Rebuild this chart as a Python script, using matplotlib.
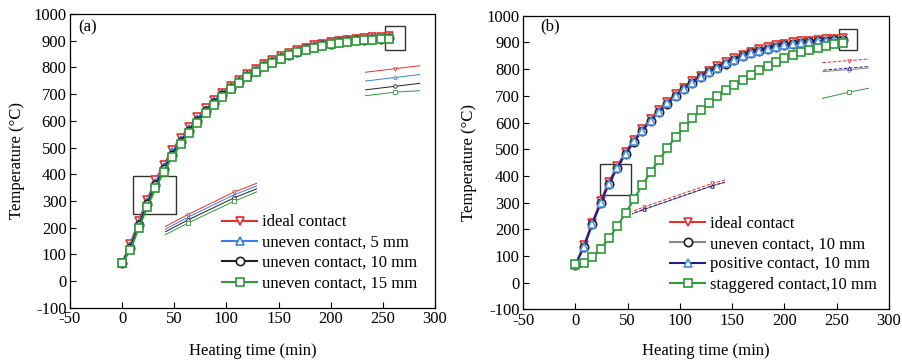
import matplotlib
matplotlib.use("Agg")
import matplotlib.pyplot as plt
from matplotlib.patches import Rectangle

plt.rcParams['font.family'] = ['Liberation Serif', 'DejaVu Serif']
plt.rcParams['font.size'] = 12
plt.rcParams['axes.unicode_minus'] = False

# heating time (min), one sample every 8 min
time_min = list(range(0, 257, 8))

# panel (a)
ideal = [68, 140, 225, 305, 378, 436, 490, 535, 576, 613, 647, 678, 706,
         731, 754, 775, 794, 811, 827, 841, 854, 865, 874, 882, 889, 895,
         900, 904, 907, 910, 912, 914, 916]
uneven_5 = [68, 133, 217, 296, 369, 428, 482, 528, 569, 607, 641, 673, 701,
            727, 750, 771, 790, 808, 824, 838, 851, 862, 871, 879, 886, 892,
            897, 901, 904, 907, 909, 911, 913]
uneven_10 = [68, 126, 209, 287, 359, 419, 474, 520, 562, 600, 635, 667, 696,
             722, 746, 767, 787, 805, 821, 835, 848, 859, 868, 876, 883, 889,
             894, 898, 901, 904, 906, 908, 910]
uneven_15 = [68, 118, 200, 277, 348, 410, 465, 512, 555, 593, 628, 661, 691,
             718, 742, 764, 784, 802, 818, 832, 845, 856, 866, 874, 881, 887,
             892, 896, 899, 902, 904, 906, 907]

# panel (b)
uneven_10b = [68, 133, 218, 297, 370, 429, 483, 528, 569, 606, 640, 671, 699,
              725, 748, 769, 788, 805, 821, 835, 848, 859, 868, 876, 883, 889,
              894, 898, 901, 904, 906, 908, 910]
positive_10 = [68, 134, 219, 298, 371, 430, 484, 529, 570, 607, 641, 672, 700,
               726, 749, 770, 789, 806, 822, 836, 849, 860, 869, 877, 884, 890,
               895, 899, 902, 905, 907, 909, 911]
staggered_10 = [69, 75, 97, 127, 166, 212, 260, 313, 366, 414, 460, 504, 547,
                583, 616, 648, 674, 698, 721, 741, 760, 779, 797, 813, 828,
                842, 853, 863, 872, 880, 887, 893, 898]

RED = '#e3302f'
BLUE = '#3c7ee0'
LIGHT_BLUE = '#4a90e2'
NAVY = '#1e1e8c'
BLACK = '#202020'
GRAY = '#8a8a8a'
GREEN = '#2f9a3a'


def style_axes(ax, tag, tag_xy, ylab_x, xlab_y):
    """Common frame, ticks and labels of one panel."""
    ax.set_xlim(-50, 300)
    ax.set_ylim(-100, 1000)
    ax.set_xticks(range(-50, 301, 50))
    ax.set_yticks(range(-100, 1001, 100))
    ax.tick_params(direction='in', length=4, width=0.8, pad=2.5,
                   top=False, right=False)
    for sp in ax.spines.values():
        sp.set_linewidth(0.9)
    ax.set_xlabel('Heating time (min)')
    ax.set_ylabel('Temperature (°C)')
    ax.xaxis.set_label_coords(0.5, xlab_y)
    ax.yaxis.set_label_coords(ylab_x, 0.5)
    ax.text(tag_xy[0], tag_xy[1], tag, ha='left', va='center', fontsize=12)


def draw_inset(ax, series, bounds, window, dashed=()):
    """Magnified view of a small window of the curves, drawn without axes."""
    ins = ax.inset_axes(bounds, transform=ax.transData)
    for i, (y, color, marker) in enumerate(series):
        ls = '--' if i in dashed else '-'
        ins.plot(time_min, y, color=color, lw=0.7, ls=ls, marker=marker,
                 ms=2.5, mfc='white', mew=0.6)
    ins.set_xlim(window[0], window[1])
    ins.set_ylim(window[2], window[3])
    ins.axis('off')
    ins.patch.set_alpha(0)


def draw_curves(ax, series, labels):
    for (y, color, marker, line_color), label in zip(series, labels):
        ax.plot(time_min, y, color=line_color, lw=1.5, marker=marker, ms=6,
                mfc='white', mec=color, mew=1.2, label=label)


def main():
    fig = plt.figure(figsize=(9.03, 3.61), dpi=100)
    ax_a = fig.add_axes([0.0775, 0.147, 0.4042, 0.8144])
    ax_b = fig.add_axes([0.5795, 0.143, 0.4047, 0.8133])

    # (a)
    series_a = [(ideal, RED, 'v', RED), (uneven_5, BLUE, '^', BLUE),
                (uneven_10, BLACK, 'o', BLACK), (uneven_15, GREEN, 's', GREEN)]
    labels_a = ['ideal contact', 'uneven contact, 5 mm',
                'uneven contact, 10 mm', 'uneven contact, 15 mm']
    draw_curves(ax_a, series_a, labels_a)
    style_axes(ax_a, '(a)', (-42, 951), -0.123, -0.119)
    ax_a.add_patch(Rectangle((10, 253), 42, 140, fill=False, lw=1, ec='#333333'))
    ax_a.add_patch(Rectangle((252, 865), 19, 90, fill=False, lw=1, ec='#333333'))
    thin_a = [(s[0], s[1], s[2]) for s in series_a]
    draw_inset(ax_a, thin_a, (40.7, 160, 88.3, 215), (20, 36, 227.6, 414.6))
    draw_inset(ax_a, thin_a, (232.6, 680, 53, 135), (243, 252, 903.5, 915.8))
    ax_a.legend(loc='lower left', bbox_to_anchor=(0.395, 0.028), frameon=False,
                handlelength=2.1, handletextpad=0.25, labelspacing=0.26,
                borderpad=0, fontsize=12)

    # (b)
    series_b = [(ideal, RED, 'v', RED), (uneven_10b, BLACK, 'o', GRAY),
                (positive_10, LIGHT_BLUE, '^', NAVY),
                (staggered_10, GREEN, 's', GREEN)]
    labels_b = ['ideal contact', 'uneven contact, 10 mm',
                'positive contact, 10 mm', 'staggered contact,10 mm']
    draw_curves(ax_b, series_b, labels_b)
    style_axes(ax_b, '(b)', (-34, 959), -0.127, -0.115)
    ax_b.add_patch(Rectangle((23.5, 329), 29.5, 116, fill=False, lw=1, ec='#333333'))
    ax_b.add_patch(Rectangle((252.4, 872), 17, 78, fill=False, lw=1, ec='#333333'))
    thin_b = [(ideal, RED, 'v'), (uneven_10b, GRAY, 'o'),
              (positive_10, NAVY, '^'), (staggered_10, GREEN, 's')]
    draw_inset(ax_b, thin_b[:3], (53.8, 230, 89.4, 160),
               (22.5, 33.5, 260, 393), dashed=(0, 2))
    draw_inset(ax_b, thin_b, (235.8, 680, 45.6, 165),
               (242.3, 252.3, 887, 916.3), dashed=(0, 2))
    ax_b.legend(loc='lower left', bbox_to_anchor=(0.38, 0.028), frameon=False,
                handlelength=2.1, handletextpad=0.25, labelspacing=0.26,
                borderpad=0, fontsize=12)

    fig.savefig('out.png', dpi=100)


if __name__ == "__main__":
    main()
